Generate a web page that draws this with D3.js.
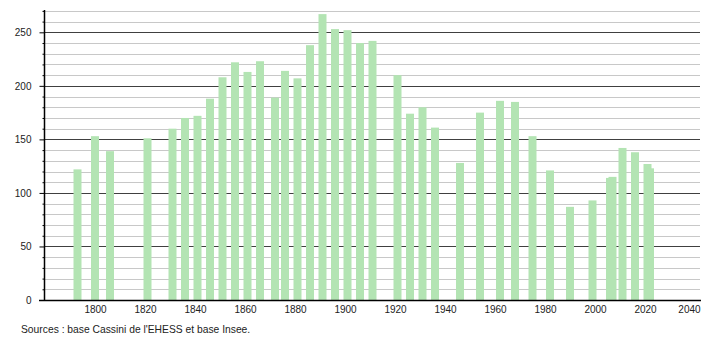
<!DOCTYPE html>
<html><head><meta charset="utf-8">
<script src="https://cdn.jsdelivr.net/npm/d3@7"></script>
<style>body{margin:0;background:#fff}svg{display:block}text{font-family:"Liberation Sans",Arial,sans-serif}</style>
</head><body><svg id="c" width="710" height="340"></svg>
<script>
const years = [1793,1800,1806,1821,1831,1836,1841,1846,1851,1856,1861,1866,1872,1876,1881,1886,1891,1896,1901,1906,1911,1921,1926,1931,1936,1946,1954,1962,1968,1975,1982,1990,1999,2006,2007,2011,2016,2021,2022];
const population = [122,153,139,151,160,170,172,188,208,222,213,223,189,214,207,238,267,253,252,240,242,210,174,180,161,128,175,186,185,153,121,87,93,114,115,142,138,127,123];
const xTicks = [1800,1820,1840,1860,1880,1900,1920,1940,1960,1980,2000,2020,2040];
const yMajor = [0,50,100,150,200,250];
const yMinor = d3.range(0,271,10);
const source = "Sources : base Cassini de l'EHESS et base Insee.";

const svg = d3.select("#c");
const x = d3.scaleLinear().domain([1780,2042]).range([45,700]);
const y = d3.scaleLinear().domain([0,270]).range([300,10.9]);
const left = 44.5;

svg.append("g").selectAll("line").data(yMinor.filter(v=>v%50!==0)).join("line")
  .attr("x1",left).attr("x2",700).attr("y1",d=>Math.round(y(d))+0.5).attr("y2",d=>Math.round(y(d))+0.5)
  .attr("stroke","#c8c8c8").attr("stroke-width",1);
svg.append("g").selectAll("line").data(yMajor.filter(v=>v>0)).join("line")
  .attr("x1",left).attr("x2",700).attr("y1",d=>Math.round(y(d))+0.5).attr("y2",d=>Math.round(y(d))+0.5)
  .attr("stroke","#404040").attr("stroke-width",1);

const data = years.map((yr,i)=>({yr,v:population[i]}));
svg.append("g").selectAll("rect").data(data).join("rect")
  .attr("x",d=>x(d.yr)-4).attr("width",8)
  .attr("y",d=>y(d.v)).attr("height",d=>y(0)-y(d.v))
  .attr("fill","#b3e4b3");

const yAxis = d3.axisLeft(y).tickValues(yMinor).tickSize(0).tickFormat(d=>yMajor.includes(d)?d:"");
const ya = svg.append("g").attr("transform",`translate(${left},0)`).call(yAxis);
ya.select(".domain").remove();
ya.selectAll(".tick line").attr("x2",d=>yMajor.includes(d)?-5:-2).attr("stroke","#000");
ya.selectAll(".tick text").attr("x",-13).attr("font-size",10).attr("fill","#222");
svg.append("line").attr("x1",left).attr("x2",left).attr("y1",10).attr("y2",300.5).attr("stroke","#000").attr("stroke-width",1.5);

const xAxis = d3.axisBottom(x).tickValues(xTicks).tickFormat(d3.format("d")).tickSize(0);
const xa = svg.append("g").attr("transform","translate(0,300.5)").call(xAxis);
xa.select(".domain").remove();
xa.selectAll(".tick text").attr("y",5).attr("font-size",10).attr("fill","#222");
xa.selectAll(".tick text").each(function(){
  const b=this.getBBox(); const tr=this.parentNode.transform.baseVal[0].matrix.e;
  if(tr+b.x+b.width>701){ d3.select(this).attr("dx",701-(tr+b.x+b.width)); }
});
svg.append("line").attr("x1",39).attr("x2",701).attr("y1",300.5).attr("y2",300.5).attr("stroke","#000").attr("stroke-width",1.5);

svg.append("text").attr("x",21).attr("y",333).attr("font-size",10.3).attr("fill","#222").text(source);
</script></body></html>
